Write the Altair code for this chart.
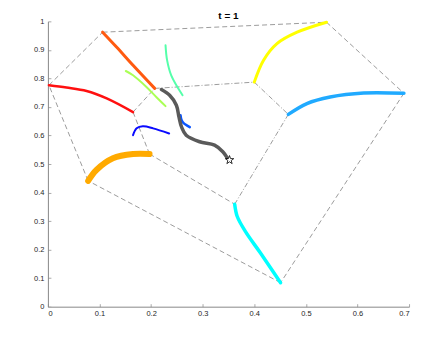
import altair as alt
import pandas as pd

title_text = "t = 1"
x_ticks = [0, 0.1, 0.2, 0.3, 0.4, 0.5, 0.6, 0.7]
y_ticks = [0, 0.1, 0.2, 0.3, 0.4, 0.5, 0.6, 0.7, 0.8, 0.9, 1.0]

# polyhedron vertices
vertices = {
    "A": (0.002, 0.776), "B": (0.106, 0.962), "C": (0.540, 0.997),
    "D": (0.690, 0.748), "E": (0.451, 0.084), "F": (0.078, 0.441),
    "G": (0.207, 0.765), "H": (0.400, 0.787), "I": (0.165, 0.682),
    "J": (0.197, 0.535), "K": (0.466, 0.674), "L": (0.362, 0.359),
}
dashed_edges = [("A", "B"), ("B", "C"), ("C", "D"), ("D", "E"), ("E", "F"),
                ("F", "A"), ("I", "G"), ("I", "J"), ("J", "L")]
dashdot_edges = [("G", "H"), ("H", "K"), ("K", "L")]

# trajectories
red_x = [0.002, 0.036, 0.075, 0.114, 0.165]
red_y = [0.776, 0.768, 0.756, 0.730, 0.682]
orangered_x = [0.106, 0.133, 0.165, 0.207]
orangered_y = [0.962, 0.910, 0.846, 0.765]
yellow_x = [0.400, 0.418, 0.444, 0.483, 0.540]
yellow_y = [0.787, 0.864, 0.922, 0.962, 0.997]
skyblue_x = [0.466, 0.502, 0.547, 0.612, 0.690]
skyblue_y = [0.674, 0.712, 0.735, 0.749, 0.748]
cyan_x = [0.362, 0.367, 0.383, 0.412, 0.451]
cyan_y = [0.359, 0.316, 0.263, 0.188, 0.084]
orange_x = [0.078, 0.094, 0.126, 0.165, 0.197]
orange_y = [0.441, 0.479, 0.520, 0.535, 0.535]
lime_x = [0.151, 0.165, 0.191, 0.210, 0.228]
lime_y = [0.826, 0.811, 0.770, 0.735, 0.703]
mint_x = [0.228, 0.231, 0.239, 0.261]
mint_y = [0.916, 0.864, 0.811, 0.741]
blue_x = [0.165, 0.172, 0.184, 0.204, 0.235]
blue_y = [0.601, 0.625, 0.632, 0.625, 0.607]
blue2_x = [0.257, 0.259, 0.263, 0.275]
blue2_y = [0.671, 0.654, 0.643, 0.629]
gray_x = [0.220, 0.236, 0.249, 0.254, 0.259, 0.268, 0.294, 0.323, 0.339, 0.347]
gray_y = [0.761, 0.741, 0.706, 0.665, 0.630, 0.601, 0.578, 0.566, 0.543, 0.523]
star_x = [0.352]
star_y = [0.514]

series = [
    ("red", red_x, red_y), ("orangered", orangered_x, orangered_y),
    ("yellow", yellow_x, yellow_y), ("skyblue", skyblue_x, skyblue_y),
    ("cyan", cyan_x, cyan_y), ("orange", orange_x, orange_y),
    ("lime", lime_x, lime_y), ("mint", mint_x, mint_y),
    ("blue", blue_x, blue_y), ("blue2", blue2_x, blue2_y),
]
colors = {
    "red": "#ff1010", "orangered": "#ff5a10", "yellow": "#ffff00",
    "skyblue": "#20aaff", "cyan": "#00ffff", "orange": "#ffaa00",
    "lime": "#aaff55", "mint": "#55ffaa", "blue": "#0a0aff", "blue2": "#0a55ff",
}
widths = {
    "red": 2.5, "orangered": 3, "yellow": 3, "skyblue": 3.5, "cyan": 3.5,
    "orange": 6, "lime": 2, "mint": 2, "blue": 2, "blue2": 2.5,
}
STAR_PATH = ("M0,-1L0.235,-0.324L0.951,-0.309L0.380,0.124L0.588,0.809L0,0.4"
             "L-0.588,0.809L-0.380,0.124L-0.951,-0.309L-0.235,-0.324Z")

rows = []
for name, xs_, ys_ in series:
    for i, (x, y) in enumerate(zip(xs_, ys_)):
        rows.append({"name": name, "i": i, "x": x, "y": y, "w": widths[name]})
tracks = pd.DataFrame(rows)

def edge_df(edges):
    r = []
    for k, (a, b) in enumerate(edges):
        for j, v in enumerate((a, b)):
            r.append({"e": k, "j": j, "x": vertices[v][0], "y": vertices[v][1]})
    return pd.DataFrame(r)

xs = alt.Scale(domain=[0, 0.7], nice=False, zero=False)
ys = alt.Scale(domain=[0, 1], nice=False, zero=False)
ax_x = alt.Axis(values=x_ticks, format=".1~f", title=None, tickSize={"expr": "-3"}, labelPadding=6)
ax_y = alt.Axis(values=y_ticks, format=".1~f", title=None, tickSize={"expr": "-3"}, labelPadding=7)
X = alt.X("x:Q", scale=xs, axis=ax_x)
Y = alt.Y("y:Q", scale=ys, axis=ax_y)

dashed = alt.Chart(edge_df(dashed_edges)).mark_line(
    color="#707070", strokeWidth=0.7, strokeDash=[5, 3]
).encode(x=X, y=Y, detail="e:N", order="j:Q")
dashdot = alt.Chart(edge_df(dashdot_edges)).mark_line(
    color="#707070", strokeWidth=0.7, strokeDash=[5, 2, 1, 2]
).encode(x=X, y=Y, detail="e:N", order="j:Q")

names = [s[0] for s in series]
track_lines = alt.Chart(tracks).mark_line(interpolate="catmull-rom", strokeCap="round").encode(
    x=X, y=Y,
    color=alt.Color("name:N", scale=alt.Scale(domain=names, range=[colors[n] for n in names]), legend=None),
    strokeWidth=alt.StrokeWidth("w:Q", scale=None),
    detail="name:N", order="i:Q",
)

gray = alt.Chart(pd.DataFrame({"x": gray_x, "y": gray_y, "i": list(range(len(gray_x)))})).mark_line(
    interpolate="catmull-rom", color="#5a5a5a", strokeWidth=3.5, strokeCap="round"
).encode(x=X, y=Y, order="i:Q")

star = alt.Chart(pd.DataFrame({"x": star_x, "y": star_y})).mark_point(
    shape=STAR_PATH, filled=False, color="black", strokeWidth=0.8, size=80, opacity=1
).encode(x=X, y=Y)

chart = alt.layer(dashed, dashdot, track_lines, gray, star).properties(
    width=362, height=286,
    padding={"left": 40, "top": 13, "right": 25, "bottom": 25},
    autosize=alt.AutoSizeParams(type="none"),
    title=alt.TitleParams(title_text, fontSize=10, fontWeight="bold", font="Liberation Sans",
                          color="black", offset=-5, frame="group"),
).configure_view(stroke=None).configure_axis(
    domainColor="#888888", domainWidth=1, ticks=True, tickColor="#aaaaaa", tickWidth=1,
    grid=False, labelColor="#262626", labelFont="Liberation Sans", labelFontSize=7.5,
)

chart.save("out.html", embed_options={"renderer": "svg", "actions": False})
